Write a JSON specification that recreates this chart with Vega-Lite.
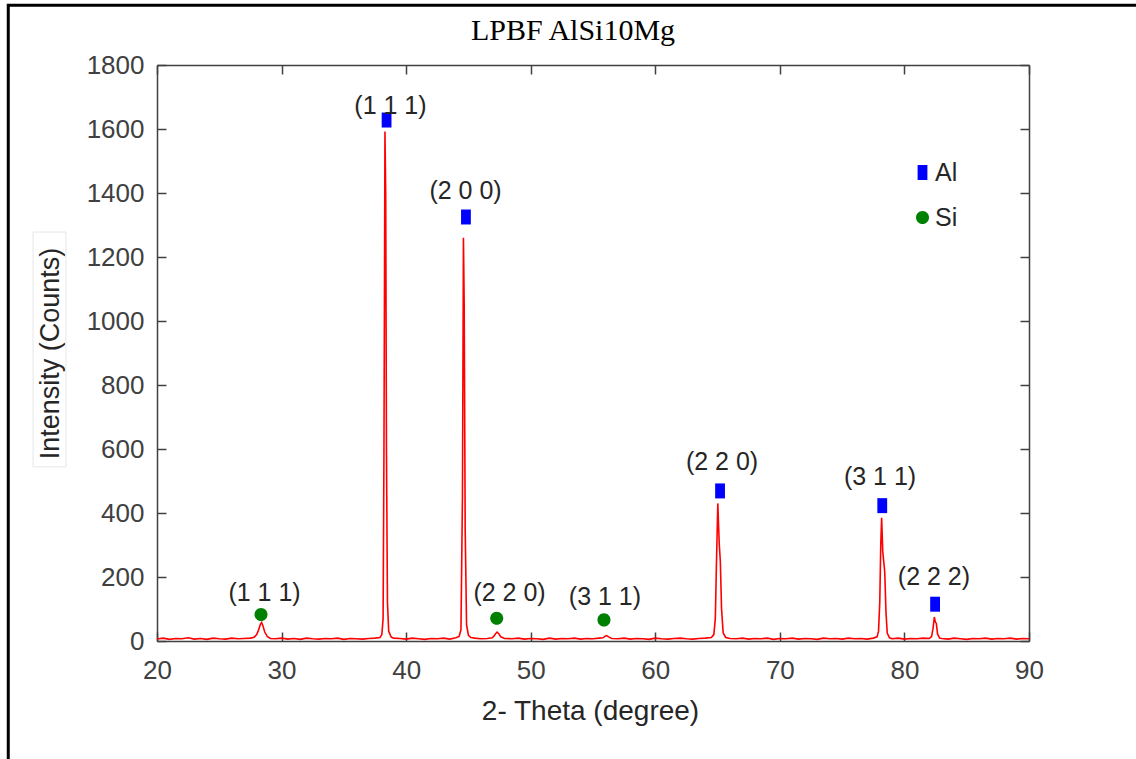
{
  "$schema": "https://vega.github.io/schema/vega-lite/v6.json",
  "width": 872,
  "height": 576,
  "autosize": {"type": "none"},
  "padding": {"left": 157, "top": 65, "right": 107, "bottom": 118},
  "background": "white",
  "title": {"text": "LPBF AlSi10Mg", "font": "Liberation Serif", "fontSize": 30, "fontWeight": "normal", "color": "#000000", "anchor": "middle", "dx": -20, "offset": 0, "dy": 42},
  "config": {
    "view": {"stroke": null},
    "axis": {"grid": false, "domainColor": "#404040", "domainWidth": 1.5, "tickColor": "#404040", "tickWidth": 1.5, "tickSize": -9, "labelColor": "#404040", "labelFont": "Liberation Sans", "labelFontSize": 26, "titleFont": "Liberation Sans", "titleFontSize": 27, "titleFontWeight": "normal", "titleColor": "#262626", "labelFlush": false, "labelOverlap": false}
  },
  "datasets": {
    "spectrum": [
      {"theta": 20, "intensity": 6}, {"theta": 20.5, "intensity": 9}, {"theta": 21, "intensity": 5}, {"theta": 21.5, "intensity": 8}, {"theta": 22, "intensity": 7}, {"theta": 22.5, "intensity": 10}, {"theta": 23, "intensity": 6}, {"theta": 23.5, "intensity": 8}, {"theta": 24, "intensity": 5}, {"theta": 24.5, "intensity": 9}, {"theta": 25, "intensity": 7}, {"theta": 25.5, "intensity": 6}, {"theta": 26, "intensity": 9}, {"theta": 26.5, "intensity": 7}, {"theta": 27, "intensity": 8}, {"theta": 27.5, "intensity": 9},
      {"theta": 27.8, "intensity": 12}, {"theta": 28.0, "intensity": 20}, {"theta": 28.15, "intensity": 34}, {"theta": 28.3, "intensity": 52}, {"theta": 28.4, "intensity": 58}, {"theta": 28.5, "intensity": 48}, {"theta": 28.65, "intensity": 28}, {"theta": 28.85, "intensity": 14}, {"theta": 29.1, "intensity": 8},
      {"theta": 29.5, "intensity": 7}, {"theta": 30, "intensity": 9}, {"theta": 30.5, "intensity": 6}, {"theta": 31, "intensity": 8}, {"theta": 31.5, "intensity": 5}, {"theta": 32, "intensity": 9}, {"theta": 32.5, "intensity": 7}, {"theta": 33, "intensity": 6}, {"theta": 33.5, "intensity": 8}, {"theta": 34, "intensity": 7}, {"theta": 34.5, "intensity": 9}, {"theta": 35, "intensity": 5}, {"theta": 35.5, "intensity": 8}, {"theta": 36, "intensity": 7}, {"theta": 36.5, "intensity": 6}, {"theta": 37, "intensity": 8}, {"theta": 37.5, "intensity": 9},
      {"theta": 37.9, "intensity": 11}, {"theta": 38.05, "intensity": 20}, {"theta": 38.15, "intensity": 70}, {"theta": 38.22, "intensity": 600}, {"theta": 38.3, "intensity": 1592}, {"theta": 38.36, "intensity": 1400}, {"theta": 38.42, "intensity": 600}, {"theta": 38.5, "intensity": 120}, {"theta": 38.6, "intensity": 30}, {"theta": 38.8, "intensity": 12}, {"theta": 39.0, "intensity": 9},
      {"theta": 39.5, "intensity": 8}, {"theta": 40, "intensity": 6}, {"theta": 40.5, "intensity": 9}, {"theta": 41, "intensity": 7}, {"theta": 41.5, "intensity": 5}, {"theta": 42, "intensity": 8}, {"theta": 42.5, "intensity": 7}, {"theta": 43, "intensity": 9}, {"theta": 43.5, "intensity": 6}, {"theta": 44, "intensity": 10},
      {"theta": 44.25, "intensity": 14}, {"theta": 44.4, "intensity": 35}, {"theta": 44.52, "intensity": 450}, {"theta": 44.6, "intensity": 1260}, {"theta": 44.66, "intensity": 1050}, {"theta": 44.74, "intensity": 350}, {"theta": 44.85, "intensity": 50}, {"theta": 45.0, "intensity": 18}, {"theta": 45.2, "intensity": 11},
      {"theta": 45.5, "intensity": 9}, {"theta": 46, "intensity": 7}, {"theta": 46.5, "intensity": 8}, {"theta": 46.9, "intensity": 10},
      {"theta": 47.05, "intensity": 15}, {"theta": 47.18, "intensity": 23}, {"theta": 47.3, "intensity": 28}, {"theta": 47.45, "intensity": 22}, {"theta": 47.6, "intensity": 13}, {"theta": 47.9, "intensity": 8},
      {"theta": 48.5, "intensity": 7}, {"theta": 49, "intensity": 9}, {"theta": 49.5, "intensity": 6}, {"theta": 50, "intensity": 8}, {"theta": 50.5, "intensity": 7}, {"theta": 51, "intensity": 5}, {"theta": 51.5, "intensity": 9}, {"theta": 52, "intensity": 6}, {"theta": 52.5, "intensity": 8}, {"theta": 53, "intensity": 7}, {"theta": 53.5, "intensity": 9}, {"theta": 54, "intensity": 6}, {"theta": 54.5, "intensity": 8}, {"theta": 55, "intensity": 7}, {"theta": 55.5, "intensity": 9},
      {"theta": 55.8, "intensity": 10}, {"theta": 55.98, "intensity": 15}, {"theta": 56.1, "intensity": 17}, {"theta": 56.25, "intensity": 13}, {"theta": 56.5, "intensity": 8},
      {"theta": 57, "intensity": 7}, {"theta": 57.5, "intensity": 9}, {"theta": 58, "intensity": 6}, {"theta": 58.5, "intensity": 8}, {"theta": 59, "intensity": 7}, {"theta": 59.5, "intensity": 5}, {"theta": 60, "intensity": 9}, {"theta": 60.5, "intensity": 7}, {"theta": 61, "intensity": 6}, {"theta": 61.5, "intensity": 8}, {"theta": 62, "intensity": 9}, {"theta": 62.5, "intensity": 7}, {"theta": 63, "intensity": 6}, {"theta": 63.5, "intensity": 8}, {"theta": 64, "intensity": 9}, {"theta": 64.5, "intensity": 11},
      {"theta": 64.7, "intensity": 20}, {"theta": 64.82, "intensity": 70}, {"theta": 64.92, "intensity": 260}, {"theta": 65.02, "intensity": 430}, {"theta": 65.08, "intensity": 360}, {"theta": 65.14, "intensity": 300}, {"theta": 65.22, "intensity": 250}, {"theta": 65.32, "intensity": 100}, {"theta": 65.45, "intensity": 25}, {"theta": 65.65, "intensity": 11},
      {"theta": 66, "intensity": 8}, {"theta": 66.5, "intensity": 7}, {"theta": 67, "intensity": 9}, {"theta": 67.5, "intensity": 6}, {"theta": 68, "intensity": 8}, {"theta": 68.5, "intensity": 7}, {"theta": 69, "intensity": 9}, {"theta": 69.5, "intensity": 5}, {"theta": 70, "intensity": 8}, {"theta": 70.5, "intensity": 7}, {"theta": 71, "intensity": 9}, {"theta": 71.5, "intensity": 6}, {"theta": 72, "intensity": 8}, {"theta": 72.5, "intensity": 7}, {"theta": 73, "intensity": 5}, {"theta": 73.5, "intensity": 9}, {"theta": 74, "intensity": 7}, {"theta": 74.5, "intensity": 8}, {"theta": 75, "intensity": 6}, {"theta": 75.5, "intensity": 9}, {"theta": 76, "intensity": 7}, {"theta": 76.5, "intensity": 8}, {"theta": 77, "intensity": 6}, {"theta": 77.5, "intensity": 9},
      {"theta": 77.8, "intensity": 13}, {"theta": 77.92, "intensity": 30}, {"theta": 78.02, "intensity": 120}, {"theta": 78.1, "intensity": 300}, {"theta": 78.17, "intensity": 385}, {"theta": 78.26, "intensity": 280}, {"theta": 78.36, "intensity": 240}, {"theta": 78.42, "intensity": 215}, {"theta": 78.52, "intensity": 90}, {"theta": 78.62, "intensity": 25}, {"theta": 78.8, "intensity": 10},
      {"theta": 79, "intensity": 7}, {"theta": 79.5, "intensity": 9}, {"theta": 80, "intensity": 6}, {"theta": 80.5, "intensity": 8}, {"theta": 81, "intensity": 7}, {"theta": 81.5, "intensity": 9}, {"theta": 82, "intensity": 8},
      {"theta": 82.18, "intensity": 14}, {"theta": 82.3, "intensity": 40}, {"theta": 82.4, "intensity": 75}, {"theta": 82.48, "intensity": 60}, {"theta": 82.56, "intensity": 55}, {"theta": 82.66, "intensity": 22}, {"theta": 82.82, "intensity": 9},
      {"theta": 83, "intensity": 8}, {"theta": 83.5, "intensity": 6}, {"theta": 84, "intensity": 9}, {"theta": 84.5, "intensity": 7}, {"theta": 85, "intensity": 5}, {"theta": 85.5, "intensity": 8}, {"theta": 86, "intensity": 7}, {"theta": 86.5, "intensity": 9}, {"theta": 87, "intensity": 6}, {"theta": 87.5, "intensity": 8}, {"theta": 88, "intensity": 7}, {"theta": 88.5, "intensity": 9}, {"theta": 89, "intensity": 6}, {"theta": 89.5, "intensity": 8}, {"theta": 90, "intensity": 7}
    ],
    "markers": [
      {"phase": "Al", "theta": 38.43, "intensity": 1628},
      {"phase": "Al", "theta": 44.8, "intensity": 1325},
      {"phase": "Al", "theta": 65.2, "intensity": 469},
      {"phase": "Al", "theta": 78.22, "intensity": 423},
      {"phase": "Al", "theta": 82.46, "intensity": 115},
      {"phase": "Si", "theta": 28.35, "intensity": 83},
      {"phase": "Si", "theta": 47.27, "intensity": 71},
      {"phase": "Si", "theta": 55.88, "intensity": 66}
    ],
    "labels": [
      {"label": "(1 1 1)", "theta": 38.74, "intensity": 1672},
      {"label": "(2 0 0)", "theta": 44.77, "intensity": 1405},
      {"label": "(2 2 0)", "theta": 65.36, "intensity": 559},
      {"label": "(3 1 1)", "theta": 78.04, "intensity": 512},
      {"label": "(2 2 2)", "theta": 82.37, "intensity": 200},
      {"label": "(1 1 1)", "theta": 28.63, "intensity": 150},
      {"label": "(2 2 0)", "theta": 48.3, "intensity": 150},
      {"label": "(3 1 1)", "theta": 55.96, "intensity": 137}
    ],
    "frames": [
      {"kind": "border", "x1": 8.06, "x2": 100, "y1": -500, "y2": 1987},
      {"kind": "titlebox", "x1": 10.05, "x2": 12.69, "y1": 544, "y2": 1278}
    ]
  },
  "layer": [
    {
      "data": {"name": "spectrum"},
      "mark": {"type": "line", "color": "#ff0000", "strokeWidth": 1.6, "interpolate": "linear"},
      "encoding": {
        "x": {"field": "theta", "type": "quantitative", "scale": {"domain": [20, 90], "nice": false, "zero": false},
              "axis": {"orient": "bottom", "values": [20, 30, 40, 50, 60, 70, 80, 90], "title": "2- Theta (degree)", "titleFontSize": 28, "labelPadding": 25, "titleX": 433, "titleY": 70, "titleBaseline": "middle", "titleAlign": "center"}},
        "y": {"field": "intensity", "type": "quantitative", "scale": {"domain": [0, 1800], "nice": false},
              "axis": {"orient": "left", "format": "d", "values": [0, 200, 400, 600, 800, 1000, 1200, 1400, 1600, 1800], "title": "Intensity (Counts)", "labelPadding": 22, "titleX": -107, "titleY": 288, "titleBaseline": "middle", "titleAlign": "center", "titleAngle": -90}}
      }
    },
    {
      "data": {"name": "markers"},
      "mark": {"type": "point", "filled": true, "opacity": 1, "size": 196},
      "encoding": {
        "x": {"field": "theta", "type": "quantitative", "axis": {"orient": "top", "values": [20, 30, 40, 50, 60, 70, 80, 90], "labels": false, "title": null}},
        "y": {"field": "intensity", "type": "quantitative", "axis": {"orient": "right", "values": [0, 200, 400, 600, 800, 1000, 1200, 1400, 1600, 1800], "labels": false, "title": null}},
        "color": {"field": "phase", "type": "nominal", "scale": {"domain": ["Al", "Si"], "range": ["#0000ff", "#008000"]},
                  "legend": {"title": null, "orient": "none", "legendX": 753, "legendY": 95, "padding": 0, "rowPadding": 19, "symbolSize": 196, "labelFont": "Liberation Sans", "labelFontSize": 25, "labelColor": "#262626", "labelOffset": 0, "symbolStrokeWidth": 0}},
        "shape": {"field": "phase", "type": "nominal", "scale": {"domain": ["Al", "Si"], "range": ["M-0.7,-1.07H0.7V1.07H-0.7Z", "M0.93,0A0.93,0.93 0 1,1 -0.93,0A0.93,0.93 0 1,1 0.93,0Z"]},
                  "legend": {"title": null, "orient": "none", "legendX": 753, "legendY": 95, "padding": 0, "rowPadding": 19, "symbolSize": 196, "labelFont": "Liberation Sans", "labelFontSize": 25, "labelColor": "#262626", "labelOffset": 0, "symbolStrokeWidth": 0}}
      }
    },
    {
      "data": {"name": "labels"},
      "mark": {"type": "text", "font": "Liberation Sans", "fontSize": 25, "color": "#262626", "align": "center", "baseline": "middle"},
      "encoding": {
        "x": {"field": "theta", "type": "quantitative", "axis": null},
        "y": {"field": "intensity", "type": "quantitative", "axis": null},
        "text": {"field": "label", "type": "nominal"}
      }
    },
    {
      "data": {"name": "frames"},
      "transform": [{"filter": "datum.kind === 'border'"}],
      "mark": {"type": "rect", "fill": null, "fillOpacity": 0, "stroke": "#000000", "strokeWidth": 3, "clip": false},
      "encoding": {
        "x": {"field": "x1", "type": "quantitative", "axis": null},
        "x2": {"field": "x2"},
        "y": {"field": "y1", "type": "quantitative", "axis": null},
        "y2": {"field": "y2"}
      }
    },
    {
      "data": {"name": "frames"},
      "transform": [{"filter": "datum.kind === 'titlebox'"}],
      "mark": {"type": "rect", "fill": null, "fillOpacity": 0, "stroke": "#e6e6e6", "strokeWidth": 1, "clip": false},
      "encoding": {
        "x": {"field": "x1", "type": "quantitative", "axis": null},
        "x2": {"field": "x2"},
        "y": {"field": "y1", "type": "quantitative", "axis": null},
        "y2": {"field": "y2"}
      }
    }
  ],
  "resolve": {"axis": {"x": "independent", "y": "independent"}}
}
